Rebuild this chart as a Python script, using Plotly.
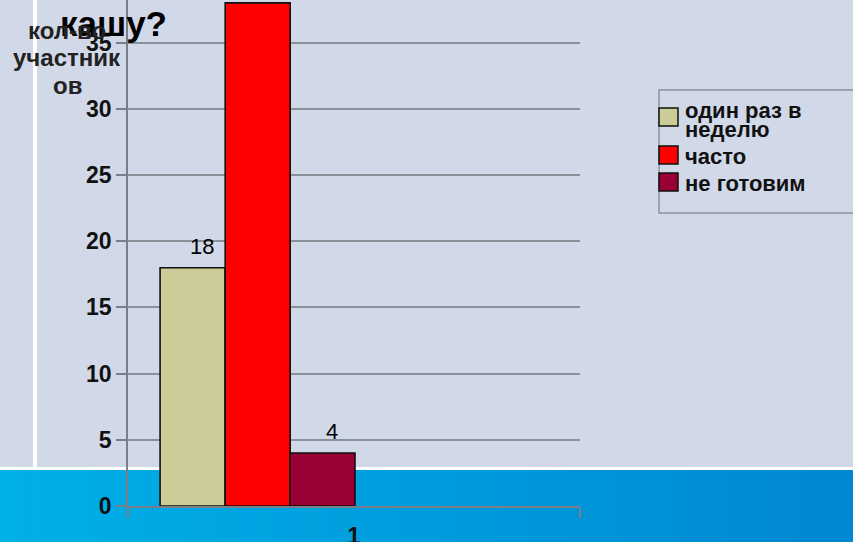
import plotly.graph_objects as go

# ---- data -------------------------------------------------------------
categories = ["1"]
series_names = ["один раз в неделю", "часто", "не готовим"]
series_values = [18, 38, 4]
series_colors = ["#CCCC99", "#FF0000", "#990033"]
show_value_label = [True, False, True]
legend_lines = [["один раз в", "неделю"], ["часто"], ["не готовим"]]
y_tick_values = [0, 5, 10, 15, 20, 25, 30, 35]
y_title_lines = ["кол-во", "участник", "ов"]
title_text = "кашу?"

# ---- geometry (pixels of the 853x542 page) ---------------------------
W, H = 853, 542
PL, PR, PT, PB = 128, 580, 0, 506          # plot area edges
Y_TOP = 38.22                               # value at the top edge of the plot area

def px(x):
    return (x - PL) / (PR - PL)

def py(y):
    return (PB - y) / (PB - PT)

FONT = "Liberation Sans, Arial, sans-serif"
GRID = "#8C9099"
AXIS = "#7A7E87"
BG = "#D1D8E8"

bar_offsets = [-0.429, -0.285, -0.1416]
bar_width = 0.1438

fig = go.Figure()
for name, val, col, off in zip(series_names, series_values, series_colors, bar_offsets):
    fig.add_trace(go.Bar(
        x=categories, y=[val], name=name,
        offset=off, width=bar_width,
        marker=dict(color=col, line=dict(color="#111111", width=1.6)),
        showlegend=False,
    ))

shapes = []
# blue band at the bottom, drawn as thin strips shading from cyan to deeper blue
n_strips = 60
c0, c1 = (0, 176, 232), (0, 136, 210)
for i in range(n_strips):
    t = i / (n_strips - 1)
    col = "rgb(%d,%d,%d)" % tuple(round(a + (b - a) * t) for a, b in zip(c0, c1))
    x0 = W * i / n_strips
    x1 = W * (i + 1) / n_strips + 1
    shapes.append(dict(type="rect", xref="paper", yref="paper",
                       x0=px(x0), x1=px(x1), y0=py(470), y1=py(H + 2),
                       fillcolor=col, line=dict(width=0), layer="below"))
# white separator lines
shapes.append(dict(type="rect", xref="paper", yref="paper",
                   x0=px(-2), x1=px(W + 2), y0=py(470), y1=py(467),
                   fillcolor="white", line=dict(width=0), layer="below"))
shapes.append(dict(type="rect", xref="paper", yref="paper",
                   x0=px(33), x1=px(37), y0=py(-2), y1=py(467),
                   fillcolor="white", line=dict(width=0), layer="below"))

# legend frame and swatches
shapes.append(dict(type="rect", xref="paper", yref="paper",
                   x0=px(659), x1=px(W + 10), y0=py(213), y1=py(90),
                   line=dict(color=GRID, width=1.5), fillcolor="rgba(0,0,0,0)"))
swatch_tops = [108, 146, 173]
for col, top in zip(series_colors, swatch_tops):
    shapes.append(dict(type="rect", xref="paper", yref="paper",
                       x0=px(659), x1=px(678), y0=py(top + 18), y1=py(top),
                       fillcolor=col, line=dict(color="#111111", width=1.5)))

annotations = []
# horizontal y-axis title (drawn first so the chart title sits on top of it)
for line, cy in zip(y_title_lines, [31, 57, 85]):
    annotations.append(dict(x=px(67), y=py(cy), xref="paper", yref="paper",
                            text=line, showarrow=False, xanchor="center",
                            yanchor="middle",
                            font=dict(family=FONT, size=24, color="#222222",
                                      weight="bold")))

# value labels above the bars
for val, off, show in zip(series_values, bar_offsets, show_value_label):
    if show:
        annotations.append(dict(x=off + bar_width / 2, y=val, xref="x", yref="y",
                                text=str(val), showarrow=False, xshift=9, yshift=7,
                                yanchor="bottom",
                                font=dict(family=FONT, size=22, color="#000000")))

# legend text
legend_centers = [[111, 130], [156], [183]]
for lines, centers in zip(legend_lines, legend_centers):
    for line, cy in zip(lines, centers):
        annotations.append(dict(x=px(683), y=py(cy), xref="paper", yref="paper",
                                text=line, showarrow=False, xanchor="left",
                                yanchor="middle",
                                font=dict(family=FONT, size=22, color="#111111",
                                          weight="bold")))

fig.update_layout(
    width=W, height=H,
    margin=dict(l=PL, r=W - PR, t=PT, b=H - PB, pad=0),
    paper_bgcolor=BG,
    plot_bgcolor="rgba(0,0,0,0)",
    barmode="overlay",
    shapes=shapes,
    annotations=annotations,
    title=dict(text=title_text, xref="container", yref="container",
               x=60 / W, xanchor="left", y=1 - 24 / H, yanchor="middle",
               font=dict(family=FONT, size=35, color="#000000", weight="bold")),
    xaxis=dict(type="category", range=[-0.5, 0.5], showgrid=False,
               showline=True, linecolor=AXIS, linewidth=1.5,
               ticks="outside", tickson="boundaries", ticklen=10,
               tickcolor=AXIS, tickwidth=1.5, ticklabelstandoff=9,
               tickfont=dict(family=FONT, size=23, color="#111111", weight="bold"),
               automargin=False, fixedrange=True),
    yaxis=dict(range=[0, Y_TOP], tickmode="array", tickvals=y_tick_values,
               showgrid=True, gridcolor=GRID, gridwidth=1.5, zeroline=False,
               showline=True, linecolor=AXIS, linewidth=1.5,
               ticks="outside", ticklen=10, tickcolor=AXIS, tickwidth=1.5,
               tickfont=dict(family=FONT, size=23, color="#111111", weight="bold"),
               automargin=False, fixedrange=True),
)

fig.write_html("out.html")
